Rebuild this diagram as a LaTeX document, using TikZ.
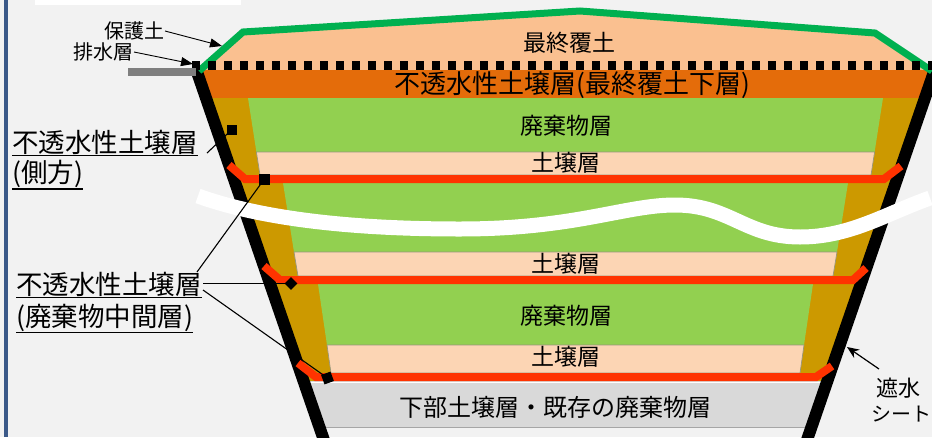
\documentclass[tikz,border=0pt]{standalone}
\usepackage{fontspec}
\setmainfont{Noto Sans CJK JP}
\usetikzlibrary{arrows.meta}
\definecolor{bgcol}{RGB}{242,242,242}
\definecolor{framecol}{RGB}{59,89,136}
\definecolor{capcol}{RGB}{250,192,144}
\definecolor{claycol}{RGB}{228,108,10}
\definecolor{sidecol}{RGB}{204,153,0}
\definecolor{wastecol}{RGB}{146,208,80}
\definecolor{soilcol}{RGB}{252,213,180}
\definecolor{redcol}{RGB}{255,51,0}
\definecolor{basecol}{RGB}{217,217,217}
\definecolor{covercol}{RGB}{0,176,80}
\definecolor{barcol}{RGB}{127,127,127}
\definecolor{edgecol}{RGB}{150,150,125}

\begin{document}
\begin{tikzpicture}[x=1pt,y=-1pt,
  lbl/.style={inner sep=0pt, font=\fontsize{23}{26}\selectfont},
  sidelbl/.style={inner sep=0pt, anchor=west, font=\fontsize{26.5}{30}\selectfont},
  smalllbl/.style={inner sep=0pt, anchor=east, font=\fontsize{20}{24}\selectfont},
  sheetlbl/.style={inner sep=0pt, anchor=west, font=\fontsize{22}{26}\selectfont},
  leader/.style={line width=1.1pt},
  underl/.style={line width=1.1pt},
  marker/.style={fill=black, inner sep=0pt, minimum size=10pt},
  sheet/.style={line width=12pt},
  barrier/.style={draw=redcol, line width=8pt, line join=miter},
  soilband/.style={fill=soilcol, draw=edgecol, line width=0.7pt},
  thinarr/.style={line width=0.9pt, -{Triangle[length=12pt,width=9pt]}},
]
\useasboundingbox (0,0) rectangle (932,437);
\clip (0,0) rectangle (932,437);

% backdrop and frame
\fill[bgcol] (0,0) rectangle (932,437);
\fill[white] (35,0) rectangle (241,4.7);
\fill[framecol] (4,0) rectangle (8,437);

% final cover soil and the impermeable cap layer
\fill[capcol] (197,70) -- (243,32) -- (580,11) -- (875,33) -- (934,70) -- cycle;
\fill[claycol] (196,70) -- (938,70) -- (926,98) -- (205,98) -- cycle;

% lateral impermeable soil wedge
\fill[sidecol] (205,98) -- (926,98) -- (827,382) -- (304,382) -- cycle;

% lift 1
\fill[wastecol] (248,98) -- (883,98) -- (874.6,152) -- (256.4,152) -- cycle;
\path[soilband] (256.4,152) -- (874.6,152) -- (871,175) -- (260,175) -- cycle;
% lift 2
\fill[wastecol] (283,183) -- (848,183) -- (837,252) -- (294,252) -- cycle;
\path[soilband] (294,252) -- (837,252) -- (833,276) -- (298,276) -- cycle;
% lift 3
\fill[wastecol] (318,284) -- (813,284) -- (804,345) -- (327,345) -- cycle;
\path[soilband] (327,345) -- (804,345) -- (800,373) -- (331,373) -- cycle;

% base layer
\fill[basecol] (303,381) -- (828,381) -- (813,427) -- (318,427) -- cycle;
\draw[white, line width=1pt] (303,382.5) -- (828,382.5);
\draw[black!35, line width=1pt] (318,427) -- (813,427);

% liner sheets
\draw[sheet] (195.3,67) -- (324.6,442);
\draw[sheet] (936,66) -- (806.3,442);

% intermediate impermeable layers
\draw[barrier] (229,165) -- (245,179) -- (884,179) -- (901,166);
\draw[barrier] (264,266) -- (280,280) -- (853,280) -- (866,268);
\draw[barrier] (298,363) -- (316,377) -- (816,377) -- (832,366);

% protective soil surface, drainage layer, outlet pipe
\draw[covercol, line width=7pt, line join=miter] (199,71) -- (243,32) -- (580,11) -- (875,33) -- (932,71);
\draw[line width=9pt, dash pattern=on 8pt off 8pt] (192,65.5) -- (940,65.5);
\draw[barcol, line width=8pt] (128,72) -- (196,72);

% break line
\draw[white, line width=15pt] (198,196) .. controls (270,222) and (370,229) .. (460,229)
  .. controls (575,229) and (625,205) .. (675,205)
  .. controls (730,205) and (745,237) .. (800,237)
  .. controls (850,237) and (885,214) .. (930,198);

% layer labels
\node[lbl] (tCap) at (569,43) {最終覆土};
\node[inner sep=0pt, font=\fontsize{26}{30}\selectfont] (tClay) at (572,85) {不透水性土壌層(最終覆土下層)};
\node[lbl] (tWaste1) at (566,126) {廃棄物層};
\node[lbl] (tSoil1) at (566,163) {土壌層};
\node[lbl] (tSoil2) at (566,263.5) {土壌層};
\node[lbl] (tWaste2) at (566,316) {廃棄物層};
\node[lbl] (tSoil3) at (566,357) {土壌層};
\node[inner sep=0pt, font=\fontsize{24}{28}\selectfont] (tBase) at (555,407) {下部土壌層・既存の廃棄物層};

% cover callouts
\node[smalllbl] (tProt) at (165,31) {保護土};
\node[smalllbl] (tDrain) at (134,52) {排水層};
\coordinate (protTip) at (222,46);
\coordinate (drainTip) at (193,64);
\draw[thinarr] (tProt.east) -- (protTip);
\draw[thinarr] (tDrain.east) -- (drainTip);

% lateral layer callout
\node[sidelbl] (side1) at (12,142.5) {不透水性土壌層};
\node[sidelbl] (side1b) at (12,174) {(側方)};
\draw[underl] ([yshift=-1pt]side1.south west) -- ([yshift=-1pt]side1.south east);
\draw[underl] ([yshift=-1pt]side1b.south west) -- ([yshift=-1pt]side1b.south east);
\coordinate (s1from) at (207,153);
\node[marker] (m1) at (232,129.5) {};
\draw[leader] (s1from) -- (m1.center);

% intermediate layer callout
\node[sidelbl] (side2) at (16,284) {不透水性土壌層};
\node[sidelbl] (side2b) at (16,317.5) {(廃棄物中間層)};
\draw[underl] ([yshift=-1pt]side2.south west) -- ([yshift=-1pt]side2.south east);
\draw[underl] ([yshift=-1pt]side2b.south west) -- ([yshift=-1pt]side2b.south east);
\node[marker, minimum size=11pt] (m2) at (264,179.5) {};
\node[marker, minimum size=9pt, rotate=45] (m3) at (291,283.5) {};
\node[marker, rotate=20] (m4) at (327.5,378) {};
\coordinate (s2a) at (197,272);
\coordinate (s2b) at (203,283.5);
\coordinate (s2c) at (203,290);
\draw[leader] (s2a) -- (m2.center);
\draw[leader] (s2b) -- (m3.center);
\draw[leader] (s2c) -- (m4.center);

% liner sheet callout
\node[sheetlbl] (tSheet) at (876,388) {遮水};
\node[sheetlbl, anchor=east, font=\fontsize{20}{24}\selectfont] (tSheet2) at (931.5,414) {シート};
\coordinate (sheetTail) at (879,369);
\coordinate (sheetTip) at (847,347);
\draw[line width=1.2pt, -{Stealth[length=12pt,width=10pt]}] (sheetTail) -- (sheetTip);
\end{tikzpicture}
\end{document}
